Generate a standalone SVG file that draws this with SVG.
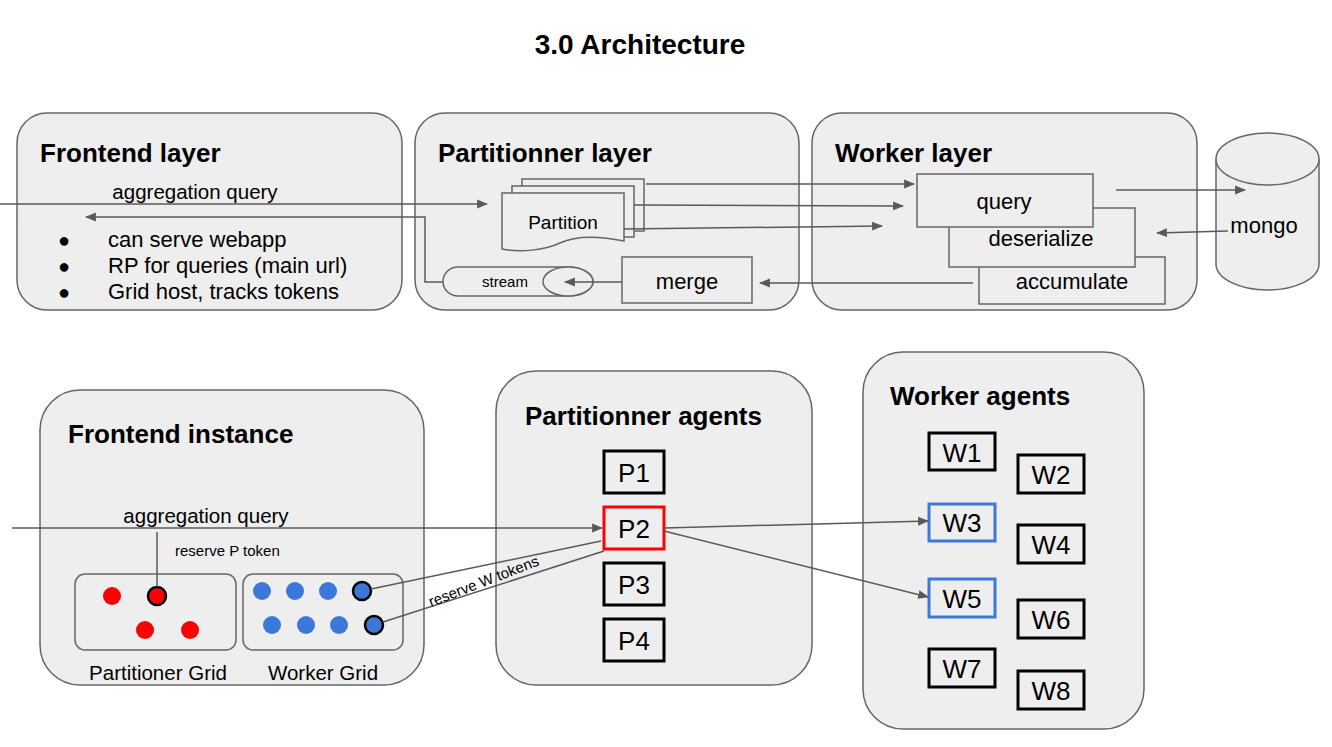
<svg xmlns="http://www.w3.org/2000/svg" width="1332" height="747" viewBox="0 0 1332 747">
<style>
text { font-family: "Liberation Sans", Arial, sans-serif; fill: #000; }
.big { fill: #eeeeee; stroke: #666666; stroke-width: 1.5; }
.shape { fill: #eeeeee; stroke: #666666; stroke-width: 1.5; }
.head { font-size: 26px; font-weight: bold; }
.lbl { font-size: 22px; }
.mid { text-anchor: middle; }
.conn { fill: none; stroke: #595959; stroke-width: 1.5; }
.agent { fill: #eeeeee; stroke: #000; stroke-width: 3; }
.sel-p { fill: #eeeeee; stroke: #ff0000; stroke-width: 3; }
.sel-w { fill: #eeeeee; stroke: #3c78d8; stroke-width: 3; }
.ag { font-size: 26px; text-anchor: middle; }
.red { fill: #ff0000; }
.blue { fill: #3c78d8; }
</style>
<defs>
<marker id="arr" viewBox="0 0 10 10" refX="9" refY="5" markerWidth="11" markerHeight="11" markerUnits="userSpaceOnUse" orient="auto">
<path d="M0,1 L10,5 L0,9 z" fill="#595959"/>
</marker>
</defs>
<rect width="1332" height="747" fill="#ffffff"/>
<text x="640" y="54" class="mid" style="font-size:28px;font-weight:bold">3.0 Architecture</text>

<g id="frontend-layer">
<rect x="17" y="113" width="385" height="197" rx="30" class="big"/>
<text x="40" y="162" class="head">Frontend layer</text>
<text x="195" y="199" style="font-size:20.5px" class="mid">aggregation query</text>
<text x="58" y="247" style="font-size:20px">●</text>
<text x="58" y="273" style="font-size:20px">●</text>
<text x="58" y="299" style="font-size:20px">●</text>
<text x="108" y="247" class="lbl">can serve webapp</text>
<text x="108" y="273" class="lbl">RP for queries (main url)</text>
<text x="108" y="299" class="lbl">Grid host, tracks tokens</text>
</g>

<g id="partitionner-layer">
<rect x="415" y="113" width="384" height="197" rx="30" class="big"/>
<text x="438" y="162" class="head">Partitionner layer</text>
</g>

<g id="partition">
<rect x="522" y="179" width="122" height="52" class="shape"/>
<rect x="512" y="186" width="122" height="51" class="shape"/>
<path d="M502,193 H624 V241 C595,235 575,236 560,243 C545,250 520,253 502,249 Z" class="shape"/>
<text x="563" y="229" style="font-size:19px" class="mid">Partition</text>
</g>

<g id="stream">
<path d="M458,267 H568 A25,14.5 0 0 1 568,296 H458 A15,14.5 0 0 1 458,267 Z" class="shape"/>
<ellipse cx="568" cy="281.5" rx="25" ry="14.5" class="shape"/>
<text x="505" y="287" style="font-size:15px" class="mid">stream</text>
</g>

<g id="merge">
<rect x="622" y="257" width="130" height="46" class="shape"/>
<text x="687" y="289" class="lbl mid">merge</text>
</g>

<g id="worker-layer">
<rect x="812" y="113" width="385" height="197" rx="30" class="big"/>
<text x="835" y="162" class="head">Worker layer</text>
</g>

<g id="accumulate">
<rect x="979" y="257" width="186" height="47" class="shape"/>
<text x="1072" y="289" class="lbl mid">accumulate</text>
</g>
<g id="deserialize">
<rect x="949" y="208" width="186" height="59" class="shape"/>
<text x="1041" y="246" class="lbl mid">deserialize</text>
</g>
<g id="query">
<rect x="917" y="174" width="176" height="53" class="shape"/>
<text x="1004" y="209" class="lbl mid">query</text>
</g>

<g id="mongo">
<path d="M1216,159 V264 A51.5,26 0 0 0 1319,264 V159" class="shape"/>
<ellipse cx="1267.5" cy="159" rx="51.5" ry="26" class="shape"/>
<text x="1264" y="233" class="lbl mid">mongo</text>
</g>

<g id="frontend-instance">
<rect x="40" y="390" width="384" height="295" rx="40" class="big"/>
<text x="68" y="443" class="head">Frontend instance</text>
<text x="206" y="523" style="font-size:20.5px" class="mid">aggregation query</text>
<text x="175" y="556" style="font-size:15px">reserve P token</text>
<text x="158" y="680" style="font-size:20.5px" class="mid">Partitioner Grid</text>
<text x="323" y="680" style="font-size:20.5px" class="mid">Worker Grid</text>
</g>

<g id="partitioner-grid">
<rect x="75" y="574" width="161" height="76" rx="10" fill="#eeeeee" stroke="#666666" stroke-width="1.5"/>
<circle cx="112" cy="596" r="9" class="red"/>
<circle cx="157" cy="596" r="9" class="red" stroke="#000" stroke-width="2.5"/>
<circle cx="145" cy="630" r="9" class="red"/>
<circle cx="190" cy="630" r="9" class="red"/>
</g>

<g id="worker-grid">
<rect x="243" y="574" width="160" height="76" rx="10" fill="#eeeeee" stroke="#666666" stroke-width="1.5"/>
<circle cx="262" cy="591" r="9" class="blue"/>
<circle cx="295" cy="591" r="9" class="blue"/>
<circle cx="328" cy="591" r="9" class="blue"/>
<circle cx="362" cy="591" r="9" class="blue" stroke="#000" stroke-width="2.5"/>
<circle cx="272" cy="625" r="9" class="blue"/>
<circle cx="306" cy="625" r="9" class="blue"/>
<circle cx="339" cy="625" r="9" class="blue"/>
<circle cx="374" cy="625" r="9" class="blue" stroke="#000" stroke-width="2.5"/>
</g>

<g id="partitionner-agents">
<rect x="496" y="371" width="316" height="314" rx="40" class="big"/>
<text x="525" y="425" class="head">Partitionner agents</text>
</g>
<g id="P1"><rect x="604" y="451" width="60" height="42" class="agent"/><text x="634" y="482" class="ag">P1</text></g>
<g id="P2"><rect x="604" y="507" width="60" height="42" class="sel-p"/><text x="634" y="538" class="ag">P2</text></g>
<g id="P3"><rect x="604" y="563" width="60" height="42" class="agent"/><text x="634" y="594" class="ag">P3</text></g>
<g id="P4"><rect x="604" y="619" width="60" height="42" class="agent"/><text x="634" y="650" class="ag">P4</text></g>

<g id="worker-agents">
<rect x="863" y="352" width="281" height="377" rx="40" class="big"/>
<text x="890" y="405" class="head">Worker agents</text>
</g>
<g id="W1"><rect x="929" y="433" width="66" height="37" class="agent"/><text x="962" y="462" class="ag">W1</text></g>
<g id="W2"><rect x="1018" y="455" width="66" height="38" class="agent"/><text x="1051" y="484" class="ag">W2</text></g>
<g id="W3"><rect x="929" y="504" width="66" height="37" class="sel-w"/><text x="962" y="532" class="ag">W3</text></g>
<g id="W4"><rect x="1018" y="525" width="66" height="38" class="agent"/><text x="1051" y="554" class="ag">W4</text></g>
<g id="W5"><rect x="929" y="579" width="66" height="38" class="sel-w"/><text x="962" y="608" class="ag">W5</text></g>
<g id="W6"><rect x="1018" y="600" width="66" height="38" class="agent"/><text x="1051" y="629" class="ag">W6</text></g>
<g id="W7"><rect x="929" y="649" width="66" height="38" class="agent"/><text x="962" y="678" class="ag">W7</text></g>
<g id="W8"><rect x="1018" y="671" width="66" height="38" class="agent"/><text x="1051" y="700" class="ag">W8</text></g>

<g id="connectors">
<path d="M0,204 H487" class="conn" marker-end="url(#arr)"/>
<path d="M443,282 H425 V217 H86" class="conn" marker-end="url(#arr)"/>
<path d="M646,184 H914" class="conn" marker-end="url(#arr)"/>
<path d="M634,205 L903,206" class="conn" marker-end="url(#arr)"/>
<path d="M624,229 L882,226" class="conn" marker-end="url(#arr)"/>
<path d="M1116,190 H1245" class="conn" marker-end="url(#arr)"/>
<path d="M1228,231 L1157,233" class="conn" marker-end="url(#arr)"/>
<path d="M973,283 H760" class="conn" marker-end="url(#arr)"/>
<path d="M622,282 H565" class="conn" marker-end="url(#arr)"/>
<path d="M12,528 H602" class="conn" marker-end="url(#arr)"/>
<path d="M157,532 V587" class="conn"/>
<path d="M371,589 L601,541" class="conn"/>
<path d="M383,622 L604,551" class="conn"/>
<path d="M664,528 L928,521" class="conn" marker-end="url(#arr)"/>
<path d="M664,531 L928,597" class="conn" marker-end="url(#arr)"/>
<text x="0" y="0" style="font-size:15px" transform="translate(431,607) rotate(-21)">reserve W tokens</text>
</g>
</svg>
